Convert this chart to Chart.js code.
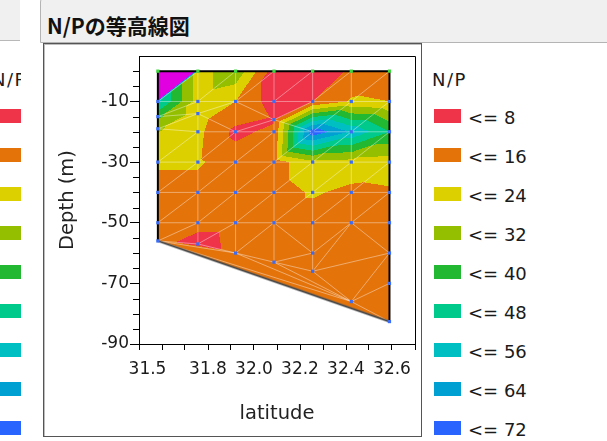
<!DOCTYPE html>
<html lang="ja">
<head>
<meta charset="utf-8">
<title>N/Pの等高線図</title>
<script src="https://cdn.jsdelivr.net/npm/chart.js@4"></script>
<style>
    html, body { margin: 0; padding: 0; background: #fff; width: 607px; height: 441px; overflow: hidden; }
    body { position: relative; font-family: "DejaVu Sans", sans-serif; color: #1a1a1a; }
    #cabIzq  { position: absolute; left: 0; top: -2px; width: 20px; height: 42px; background: #f0f0f0; border-bottom: 1px solid #b8b8b8; }
    #cab     { position: absolute; left: 40px; top: -4px; width: 580px; height: 45px; background: #f0f0f0;
               border: 1px solid #b4b4b4; border-top-left-radius: 6px; }
    #titulo  { position: absolute; left: 47px; top: 11px; font: bold 21px "Noto Sans CJK JP", sans-serif; line-height: 28px; color: #111; }
    #caja    { position: absolute; left: 43px; top: 43px; width: 377px; height: 392px; border: 1px solid #555;
               box-shadow: inset 1px 1px 0 #bdbdbd; }
    #grafica { position: absolute; left: 0; top: 0; }
    .leyenda { position: absolute; top: 0; height: 441px; overflow: hidden; }
    .leyenda .tit { position: absolute; font-size: 18px; line-height: 18px; letter-spacing: 1.5px; }
    .leyenda .sw  { position: absolute; width: 27px; height: 14px; }
    .leyenda .txt { position: absolute; font-size: 18px; line-height: 18px; white-space: nowrap; }
</style>
</head>
<body>
<div id="cabIzq"></div>
<div id="cab"></div>
<div id="titulo">N/Pの等高線図</div>
<div id="caja"></div>
<div class="leyenda" id="leyIzq" style="left:0;width:21px"></div>
<div class="leyenda" id="leyDer" style="left:422px;width:185px"></div>
<canvas id="grafica" width="607" height="441"></canvas>

<script>
/* ── Datos: estaciones (latitud) y perfiles de profundidad ── */
const latitudes = [31.582, 31.756, 31.920, 32.087, 32.255, 32.423, 32.589];

const profundidades = [
    [0, -10, -15, -19, -30, -40, -50, -56],
    [0, -10, -14, -20, -30, -40, -50, -57],
    [0, -10, -20, -30, -40, -50, -60],
    [0, -10, -16, -20, -30, -40, -50, -63],
    [0, -10, -20, -30, -40, -50, -60, -66],
    [0, -10, -20, -30, -40, -50, -76],
    [0, -10, -20, -30, -40, -50, -60, -70, -82.6]
];

const valoresNP = [
    [900, 50, 34, 25, 17, 13, 13, 12],
    [20, 20, 20, 18, 17, 13, 12, 3],
    [30, 16, 6, 12, 12, 12, 11],
    [4, 4, 7, 10, 12, 12, 12, 11],
    [3, 8, 70, 22, 17, 12, 11, 11],
    [9, 17, 55, 21, 14, 12, 11],
    [12, 16, 40, 20, 15, 13, 12, 12, 11]
];

const limitesNP   = [8, 16, 24, 32, 40, 48, 56, 64, 72];
const coloresNP   = ['#ef3349', '#e4730a', '#dcd000', '#94bf00', '#22b832', '#00c98c',
                     '#00bfc2', '#00a0d2', '#2a64ff', '#6a3cf8', '#a82ef0', '#e000e0'];
const etiquetasX  = ['31.5', '31.8', '32.0', '32.2', '32.4', '32.6'];
const etiquetasY  = [-10, -30, -50, -70, -90];

document.addEventListener('DOMContentLoaded', function () {
    construirLeyenda('leyDer', 0);
    construirLeyenda('leyIzq', -440);
    inicializarGrafica();
});

/* ── Leyenda (derecha completa, izquierda recortada) ── */
function construirLeyenda(id, dx) {
    const cont = document.getElementById(id);
    const base = cont.offsetLeft;
    let html = `<div class="tit" style="left:${432 + dx - base}px;top:71px">N/P</div>`;
    limitesNP.forEach((lim, i) => {
        const c = 116.3 + i * 38.9;
        html += `<div class="sw" style="left:${434 + dx - base}px;top:${(c - 7).toFixed(1)}px;background:${coloresNP[i]}"></div>`;
        html += `<div class="txt" style="left:${468 + dx - base}px;top:${(c - 7).toFixed(1)}px">&lt;= ${lim}</div>`;
    });
    cont.innerHTML = html;
}

function banda(v) {
    if (v <= 8) return 0;
    return Math.min(coloresNP.length - 1, Math.ceil(v / 8) - 1);
}

function hexRgb(h) {
    return [parseInt(h.slice(1, 3), 16), parseInt(h.slice(3, 5), 16), parseInt(h.slice(5, 7), 16)];
}

/* ── Triangulación de Delaunay (Bowyer-Watson) ── */
function enCirculo(P, t, x, y) {
    const [ax, ay] = P[t[0]], [bx, by] = P[t[1]], [cx, cy] = P[t[2]];
    const d = 2 * (ax * (by - cy) + bx * (cy - ay) + cx * (ay - by));
    if (Math.abs(d) < 1e-12) return false;
    const a2 = ax * ax + ay * ay, b2 = bx * bx + by * by, c2 = cx * cx + cy * cy;
    const ux = (a2 * (by - cy) + b2 * (cy - ay) + c2 * (ay - by)) / d;
    const uy = (a2 * (cx - bx) + b2 * (ax - cx) + c2 * (bx - ax)) / d;
    const r2 = (ax - ux) ** 2 + (ay - uy) ** 2;
    return (x - ux) ** 2 + (y - uy) ** 2 < r2 - 1e-7;
}

function triangular(pts) {
    const n = pts.length;
    // ligera inclinación para desempatar las celdas rectangulares (diagonal "/")
    const P = pts.map(p => [p.px + 0.05 * p.py, p.py]);
    const M = 1e5;
    P.push([-M, -M], [2 * M, -M], [-M, 2 * M]);
    let tris = [[n, n + 1, n + 2]];
    for (let i = 0; i < n; i++) {
        const [x, y] = P[i];
        const malos = [], buenos = [];
        tris.forEach(t => (enCirculo(P, t, x, y) ? malos : buenos).push(t));
        const cuenta = new Map();
        malos.forEach(t => {
            [[t[0], t[1]], [t[1], t[2]], [t[2], t[0]]].forEach(([a, b]) => {
                const k = a < b ? a + ',' + b : b + ',' + a;
                cuenta.set(k, (cuenta.get(k) || 0) + 1);
            });
        });
        cuenta.forEach((c, k) => {
            if (c === 1) {
                const [a, b] = k.split(',').map(Number);
                buenos.push([a, b, i]);
            }
        });
        tris = buenos;
    }
    return tris.filter(t => t[0] < n && t[1] < n && t[2] < n);
}

/* ── Plugin: relleno de contornos + malla ── */
const pluginContorno = {
    id: 'contorno',
    beforeDatasetsDraw(chart) {
        const {ctx, scales: {x, y}} = chart;
        const pts = [];
        latitudes.forEach((lat, i) => {
            profundidades[i].forEach((d, j) => {
                pts.push({px: x.getPixelForValue(lat), py: y.getPixelForValue(d), v: valoresNP[i][j],
                          est: i, prof: d});
            });
        });
        const tris = triangular(pts);
        const W = chart.width, H = chart.height;
        const off = document.createElement('canvas');
        off.width = W; off.height = H;
        const octx = off.getContext('2d');
        const img = octx.createImageData(W, H);
        const rgb = coloresNP.map(hexRgb);

        tris.forEach(t => {
            const [a, b, c] = t.map(k => pts[k]);
            const det = (b.py - c.py) * (a.px - c.px) + (c.px - b.px) * (a.py - c.py);
            if (Math.abs(det) < 1e-9) return;
            const x0 = Math.max(0, Math.floor(Math.min(a.px, b.px, c.px)));
            const x1 = Math.min(W - 1, Math.ceil(Math.max(a.px, b.px, c.px)));
            const y0 = Math.max(0, Math.floor(Math.min(a.py, b.py, c.py)));
            const y1 = Math.min(H - 1, Math.ceil(Math.max(a.py, b.py, c.py)));
            for (let py = y0; py <= y1; py++) {
                for (let px = x0; px <= x1; px++) {
                    const sx = px + 0.5, sy = py + 0.5;
                    const l1 = ((b.py - c.py) * (sx - c.px) + (c.px - b.px) * (sy - c.py)) / det;
                    const l2 = ((c.py - a.py) * (sx - c.px) + (a.px - c.px) * (sy - c.py)) / det;
                    const l3 = 1 - l1 - l2;
                    if (l1 < -1e-4 || l2 < -1e-4 || l3 < -1e-4) continue;
                    const col = rgb[banda(l1 * a.v + l2 * b.v + l3 * c.v)];
                    const o = (py * W + px) * 4;
                    img.data[o] = col[0]; img.data[o + 1] = col[1]; img.data[o + 2] = col[2]; img.data[o + 3] = 255;
                }
            }
        });
        octx.putImageData(img, 0, 0);
        ctx.drawImage(off, 0, 0);

        // aristas de la malla
        const aristas = new Map();
        tris.forEach(t => {
            [[t[0], t[1]], [t[1], t[2]], [t[2], t[0]]].forEach(([a, b]) => {
                const k = a < b ? a + ',' + b : b + ',' + a;
                aristas.set(k, (aristas.get(k) || 0) + 1);
            });
        });
        ctx.save();
        ctx.lineWidth = 1;
        ctx.strokeStyle = 'rgba(255,255,255,0.4)';
        ctx.beginPath();
        aristas.forEach((c, k) => {
            if (c !== 2) return;
            const [a, b] = k.split(',').map(Number);
            ctx.moveTo(pts[a].px, pts[a].py);
            ctx.lineTo(pts[b].px, pts[b].py);
        });
        ctx.stroke();

        // contorno exterior
        aristas.forEach((c, k) => {
            if (c !== 1) return;
            const [a, b] = k.split(',').map(Number);
            const p = pts[a], q = pts[b];
            const recta = p.est === q.est || p.prof === q.prof;
            ctx.beginPath();
            ctx.moveTo(p.px, p.py);
            ctx.lineTo(q.px, q.py);
            if (recta) {
                ctx.strokeStyle = '#000';
                ctx.lineWidth = 2;
                ctx.stroke();
            } else {
                ctx.strokeStyle = 'rgba(90,90,90,0.45)';
                ctx.lineWidth = 3;
                ctx.stroke();
                ctx.strokeStyle = '#4a4a4a';
                ctx.lineWidth = 1.2;
                ctx.stroke();
            }
        });
        ctx.restore();
    },
    afterDraw(chart) {
        const {ctx, chartArea: a, scales: {y}} = chart;
        ctx.save();
        ctx.strokeStyle = '#000';
        ctx.lineWidth = 1;
        ctx.beginPath();
        ctx.moveTo(a.left, a.top + 0.5);
        ctx.lineTo(a.right + 0.5, a.top + 0.5);
        ctx.lineTo(a.right + 0.5, a.bottom);
        // marcas menores del eje Y
        for (let v = -85; v <= 0; v += 5) {
            if (etiquetasY.includes(v)) continue;
            const py = Math.round(y.getPixelForValue(v)) + 0.5;
            ctx.moveTo(a.left - 6, py);
            ctx.lineTo(a.left, py);
        }
        ctx.stroke();
        ctx.restore();
    }
};

/* ── Gráfica ── */
function inicializarGrafica() {
    const canvas = document.getElementById('grafica');
    const puntos = [];
    latitudes.forEach((lat, i) => {
        profundidades[i].forEach(d => puntos.push({x: lat, y: d}));
    });

    const fuenteTicks  = {family: 'DejaVu Sans', size: 17};
    const fuenteTitulo = {family: 'DejaVu Sans', size: 19.5};

    new Chart(canvas, {
        type: 'scatter',
        data: {
            datasets: [{
                data: puntos,
                pointStyle: 'rect',
                pointRadius: 2.3,
                pointBorderWidth: 0,
                pointBackgroundColor: ctx => (ctx.raw && ctx.raw.y === 0 ? '#3fd83f' : '#3a6cf5')
            }]
        },
        options: {
            responsive: false,
            animation: false,
            devicePixelRatio: 1,
            layout: {padding: {left: 44, top: 56, right: 192, bottom: 4}},
            plugins: {legend: {display: false}, tooltip: {enabled: false}},
            scales: {
                x: {
                    type: 'linear',
                    min: 31.5, max: 32.7,
                    afterFit: s => { s.height = 93; },
                    border: {display: true, color: '#000', width: 1},
                    grid: {drawOnChartArea: false, drawTicks: true, tickLength: 6, tickColor: '#000'},
                    ticks: {
                        stepSize: 0.1, autoSkip: false, maxRotation: 0, padding: 9,
                        font: fuenteTicks, color: '#1a1a1a',
                        callback: val => {
                            const e = etiquetasX.find(l => Math.abs(parseFloat(l) - val) < 1e-6);
                            if (!e) return '';
                            return e === etiquetasX[0] ? '\u2002\u2002' + e : e;
                        }
                    },
                    title: {display: true, text: 'latitude', font: fuenteTitulo, color: '#222',
                            padding: {top: 0, bottom: 11}}
                },
                y: {
                    type: 'linear',
                    min: -90, max: 5,
                    afterFit: s => { s.width = 95; },
                    border: {display: true, color: '#000', width: 1},
                    grid: {
                        drawOnChartArea: false, drawTicks: true, tickLength: 9,
                        tickColor: ctx => (ctx.tick && etiquetasY.includes(ctx.tick.value) ? '#000' : 'rgba(0,0,0,0)')
                    },
                    ticks: {
                        stepSize: 5, autoSkip: false, padding: 1,
                        font: fuenteTicks, color: '#1a1a1a',
                        callback: val => (etiquetasY.includes(val) ? String(val) : '')
                    },
                    title: {display: true, text: 'Depth (m)', font: fuenteTitulo, color: '#222',
                            padding: {top: 12, bottom: 0}}
                }
            }
        },
        plugins: [pluginContorno]
    });
}
</script>
</body>
</html>
